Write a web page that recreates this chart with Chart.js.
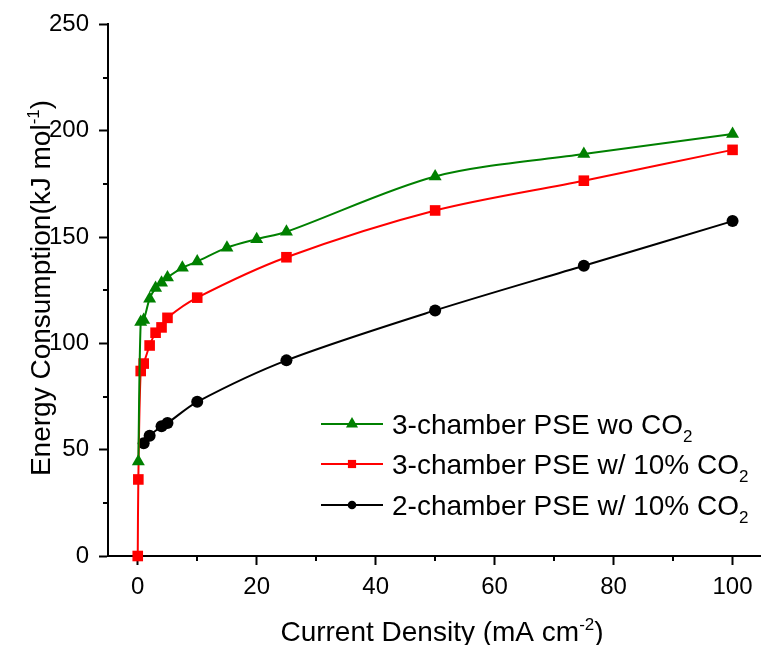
<!DOCTYPE html>
<html>
<head>
<meta charset="utf-8">
<script src="https://cdn.jsdelivr.net/npm/chart.js"></script>
<style>
html,body{margin:0;padding:0;background:#fff;overflow:hidden}
</style>
</head>
<body>
<canvas id="myChart" width="768" height="645"></canvas>
<script>
const FONT = "'Liberation Sans', Arial, sans-serif";

// current density (mA cm-2) and energy consumption (kJ mol-1)
const xWo = [0.1, 0.5, 1, 2, 3, 4, 5, 7.5, 10, 15, 20, 25, 50, 75, 100];
const yWo = [44.5, 110, 111, 121, 126, 128.5, 131, 135.5, 138.5, 145, 149, 152.5, 178.5, 189, 198.5];

const x3ch = [0, 0.1, 0.5, 1, 2, 3, 4, 5, 10, 25, 50, 75, 100];
const y3ch = [0, 36, 87, 90.5, 99, 105, 107.5, 112, 121.5, 140.5, 162.5, 176.5, 191];

const x2ch = [1, 2, 4, 5, 10, 25, 50, 75, 100];
const y2ch = [53, 56.5, 61, 62.5, 72.5, 92, 115.5, 136.5, 157.5];

const seriesNames = ['3-chamber PSE wo CO', '3-chamber PSE w/ 10% CO', '2-chamber PSE w/ 10% CO'];
const xMinor = [10, 30, 50, 70, 90];
const yMinor = [25, 75, 125, 175, 225];

function pts(xs, ys) {
  return xs.map((x, i) => ({x: x, y: ys[i]}));
}

const styles = [
  {color: '#008000', pointStyle: 'triangle', radius: 7.5, legendRadius: 7},
  {color: '#ff0000', pointStyle: 'rect', radius: 7.5, legendRadius: 5.8},
  {color: '#000000', pointStyle: 'circle', radius: 6, legendRadius: 4.3}
];

// minor ticks, axis titles with superscripts, legend with subscripts
const extras = {
  id: 'extras',
  afterDraw(chart) {
    const c = chart.ctx;
    const xs = chart.scales.x, ys = chart.scales.y;
    const area = chart.chartArea;
    c.save();
    c.strokeStyle = '#000';
    c.lineWidth = 2;
    c.beginPath();
    xMinor.forEach(v => {
      const px = Math.round(xs.getPixelForValue(v));
      c.moveTo(px, area.bottom);
      c.lineTo(px, area.bottom + 5);
    });
    yMinor.forEach(v => {
      const py = Math.round(ys.getPixelForValue(v));
      c.moveTo(area.left, py);
      c.lineTo(area.left - 5, py);
    });
    c.stroke();

    // axis titles
    c.fillStyle = '#000';
    c.textBaseline = 'alphabetic';
    c.textAlign = 'left';
    const big = '28px ' + FONT, small = '17px ' + FONT;
    function parts(list) {
      let w = 0;
      list.forEach(p => { c.font = p[1] ? small : big; w += c.measureText(p[0]).width; });
      return w;
    }
    function drawParts(list, x0, y0) {
      let x = x0;
      list.forEach(p => {
        c.font = p[1] ? small : big;
        c.fillText(p[0], x, y0 + p[1]);
        x += c.measureText(p[0]).width;
      });
    }
    const xt = [['Current Density (mA cm', 0], ['-2', -11], [')', 0]];
    drawParts(xt, 442 - parts(xt) / 2, 641);

    const yt = [['Energy Consumption(kJ mol', 0], ['-1', -11], [')', 0]];
    c.save();
    c.translate(50, 288);
    c.rotate(-Math.PI / 2);
    drawParts(yt, -parts(yt) / 2, 0);
    c.restore();

    // legend
    const rows = [424, 464, 505];
    chart.data.datasets.forEach((ds, i) => {
      const st = styles[i];
      const y = rows[i];
      c.strokeStyle = st.color;
      c.fillStyle = st.color;
      c.lineWidth = 2;
      c.beginPath();
      c.moveTo(321, y);
      c.lineTo(383, y);
      c.stroke();
      Chart.helpers.drawPoint(c, {pointStyle: st.pointStyle, radius: st.legendRadius, rotation: 0, borderWidth: 0}, 352, y);
      c.fillStyle = '#000';
      drawParts([[seriesNames[i], 0], ['2', 8]], 392, y + 10);
    });
    c.restore();
  }
};

const datasets = [
  {data: pts(xWo, yWo)},
  {data: pts(x3ch, y3ch)},
  {data: pts(x2ch, y2ch)}
].map((d, i) => Object.assign(d, {
  label: seriesNames[i] + '2',
  borderColor: styles[i].color,
  backgroundColor: styles[i].color,
  borderWidth: 2,
  pointStyle: styles[i].pointStyle,
  pointRadius: styles[i].radius,
  pointBorderWidth: 0,
  tension: 0.3,
  fill: false,
  clip: false
}));

new Chart(document.getElementById('myChart'), {
  type: 'line',
  data: {datasets: datasets},
  options: {
    responsive: false,
    animation: false,
    events: [],
    layout: {padding: {top: 22, right: 0, left: 0, bottom: 0}},
    plugins: {legend: {display: false}, tooltip: {enabled: false}},
    scales: {
      x: {
        type: 'linear',
        min: -5,
        max: 104.7,
        afterFit(s) { s.height = 89; },
        border: {color: '#000', width: 2},
        grid: {drawOnChartArea: false, tickLength: 9, tickWidth: 2, tickColor: '#000'},
        ticks: {stepSize: 20, includeBounds: false, color: '#000', padding: 8, maxRotation: 0,
          font: {family: FONT, size: 24}}
      },
      y: {
        type: 'linear',
        min: 0,
        max: 250,
        afterFit(s) { s.width = 108; },
        border: {color: '#000', width: 2},
        grid: {drawOnChartArea: false, tickLength: 9, tickWidth: 2, tickColor: '#000'},
        ticks: {stepSize: 50, color: '#000', padding: 10,
          font: {family: FONT, size: 24}}
      }
    }
  },
  plugins: [extras]
});
</script>
</body>
</html>
